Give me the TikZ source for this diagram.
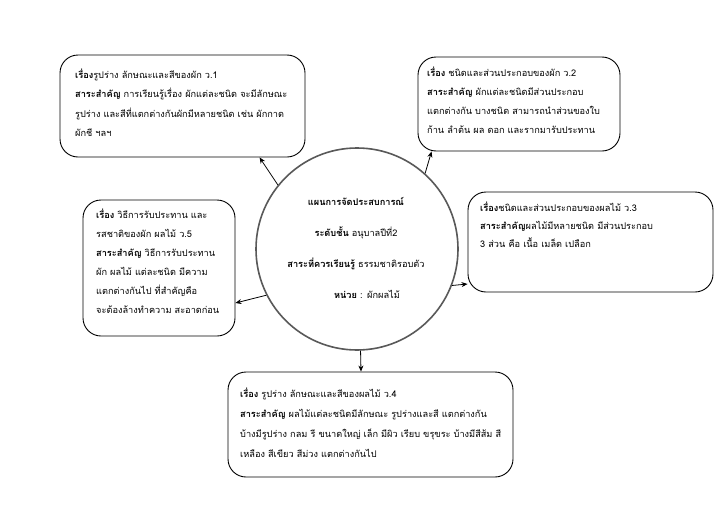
\documentclass[tikz,border=0pt]{standalone}
\usepackage{fontspec}
\setmainfont[Script=Thai]{Loma}
\usetikzlibrary{arrows.meta}
\begin{document}
\begin{tikzpicture}[x=1pt,y=-1pt,
  box/.style={draw=black,line width=0.9pt,rounded corners=18pt,inner sep=0pt},
  txt/.style={anchor=base west,inner sep=0pt,text width=300pt,align=left,font=\fontsize{9.2}{19.5}\selectfont},
  arr/.style={draw=black,line width=0.8pt,-{Stealth[length=6pt,width=5pt]}},
  hd/.style={font=\bfseries}]
\useasboundingbox[fill=white] (0,0) rectangle (727,514);
% circle
\node[circle,draw=black!65,line width=1.6pt,minimum size=202pt,inner sep=0pt] (c) at (357,249) {};
\node[anchor=base,inner sep=0pt,text width=220pt,align=center,font=\fontsize{9.2}{31}\selectfont] (ct) at (356,205)
 {\textbf{แผนการจัดประสบการณ์}\\
  \textbf{ระดับชั้น} อนุบาลปีที่2\\
  \textbf{สาระที่ควรเรียนรู้} ธรรมชาติรอบตัว\\
  \hspace*{22pt}\textbf{หน่วย} : ผักผลไม้};
% boxes
\node[box,minimum width=245pt,minimum height=102pt] (b1) at (182.5,106) {};
\node[box,minimum width=202pt,minimum height=94pt] (b2) at (519,104) {};
\node[box,minimum width=245pt,minimum height=100pt] (b3) at (590.5,242) {};
\node[box,minimum width=152pt,minimum height=136pt] (b4) at (159,268) {};
\node[box,minimum width=285pt,minimum height=105pt] (b5) at (370.5,424.5) {};
% texts
\node[txt] (t1) at (75,78) {\textbf{เรื่อง}รูปร่าง ลักษณะและสีของผัก ว.1\\
\textbf{สาระสำคัญ}  การเรียนรู้เรื่อง ผักแต่ละชนิด จะมีลักษณะ\\
รูปร่าง และสีที่แตกต่างกันผักมีหลายชนิด เช่น ผักกาด\\
ผักชี ฯลฯ};
\node[txt,font=\fontsize{9.2}{19}\selectfont] (t2) at (427,76) {\textbf{เรื่อง} ชนิดและส่วนประกอบของผัก ว.2\\
\textbf{สาระสำคัญ} ผักแต่ละชนิดมีส่วนประกอบ\\
แตกต่างกัน บางชนิด สามารถนำส่วนของใบ\\
ก้าน ลำต้น ผล ดอก และรากมารับประทาน};
\node[txt,font=\fontsize{9.2}{18}\selectfont] (t3) at (480,211) {\textbf{เรื่อง}ชนิดและส่วนประกอบของผลไม้ ว.3\\
\textbf{สาระสำคัญ}ผลไม้มีหลายชนิด มีส่วนประกอบ\\
3 ส่วน คือ เนื้อ เมล็ด เปลือก};
\node[txt,font=\fontsize{9.2}{19}\selectfont] (t4) at (96,218) {\textbf{เรื่อง} วิธีการรับประทาน และ\\
รสชาติของผัก ผลไม้ ว.5\\
\textbf{สาระสำคัญ} วิธีการรับประทาน\\
ผัก ผลไม้ แต่ละชนิด มีความ\\
แตกต่างกันไป  ที่สำคัญคือ\\
จะต้องล้างทำความ สะอาดก่อน};
\node[txt,font=\fontsize{9.2}{20}\selectfont] (t5) at (240,397) {\textbf{เรื่อง} รูปร่าง ลักษณะและสีของผลไม้ ว.4\\
\textbf{สาระสำคัญ} ผลไม้แต่ละชนิดมีลักษณะ รูปร่างและสี แตกต่างกัน\\
บ้างมีรูปร่าง กลม รี ขนาดใหญ่ เล็ก มีผิว เรียบ ขรุขระ บ้างมีสีส้ม สี\\
เหลือง สีเขียว สีม่วง แตกต่างกันไป};
% arrows
\draw[arr] (c.141) -- ([xshift=200pt]b1.south west);
\draw[arr] (c.48) -- ([xshift=14pt]b2.south west);
\draw[arr] (c.-21) -- ([yshift=-42pt]b3.west);
\draw[arr] (c.207) -- ([yshift=-35pt]b4.east);
\draw[arr] (c.-88) -- ([xshift=-9.5pt]b5.north);
\end{tikzpicture}
\end{document}
